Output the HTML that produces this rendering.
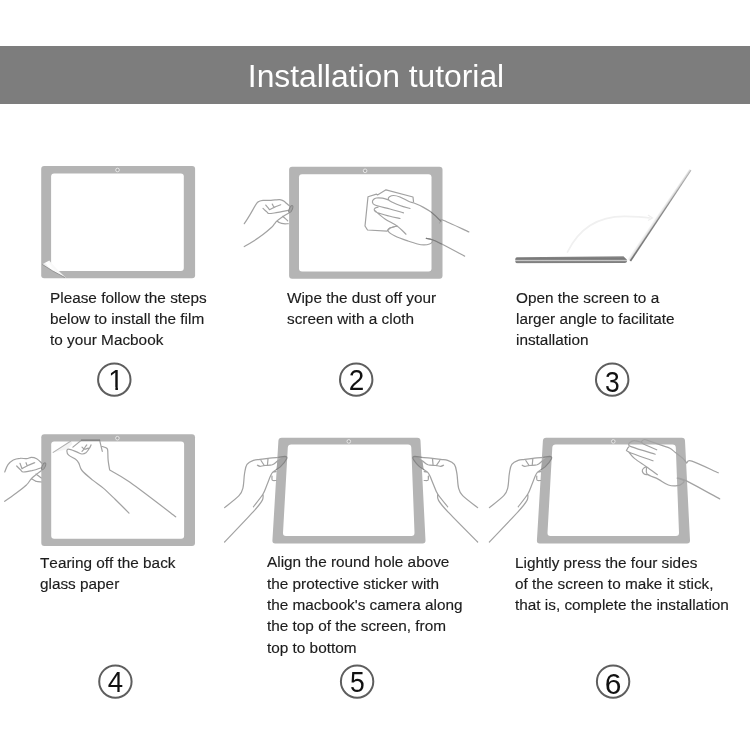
<!DOCTYPE html>
<html><head><meta charset="utf-8"><title>Installation tutorial</title>
<style>
html,body{margin:0;padding:0;background:#fff;}
body{width:750px;height:750px;position:relative;overflow:hidden;font-family:"Liberation Sans",Arial,sans-serif;color:#1a1a1a;}
.banner{position:absolute;left:0;top:46px;width:750px;height:57.5px;background:#7d7d7d;}
.title{position:absolute;left:0.5px;top:48.3px;width:750px;height:57px;line-height:57px;text-align:center;color:#fff;font-size:31.8px;white-space:nowrap;will-change:transform;}
.t{position:absolute;font-size:15.33px;line-height:20px;height:20px;white-space:nowrap;color:#1c1c1c;will-change:transform;-webkit-text-stroke:0.15px #1c1c1c;font-kerning:none;}
svg{position:absolute;left:0;top:0;will-change:transform;}
</style></head><body>
<div class="banner"></div>
<div class="title"><span id="ttl">Installation tutorial</span></div>
<svg width="750" height="750" viewBox="0 0 750 750">
<rect x="41.2" y="166.0" width="153.9" height="112.3" rx="3" fill="#b4b4b4"/><rect x="51.1" y="173.4" width="132.7" height="97.6" rx="3" fill="#fff"/><circle cx="117.5" cy="170.0" r="1.8" fill="#a8a8a8" stroke="#ececec" stroke-width="0.9"/>
<defs><linearGradient id="gp" gradientUnits="userSpaceOnUse" x1="46" y1="268" x2="54" y2="262"><stop offset="0" stop-color="#e2e2e2"/><stop offset="0.35" stop-color="#fff"/><stop offset="1" stop-color="#f2f2f2"/></linearGradient></defs>
<path d="M42.2 264.2 L49.3 260.6 Q55.5 268.5 66.2 277.9 Q52 271 42.2 264.2Z" fill="url(#gp)"/>
<path d="M42.2 264.4 Q52 271 65 277.6" fill="none" stroke="#8e8e8e" stroke-width="0.9"/>
<rect x="289.1" y="166.7" width="153.4" height="112.1" rx="3" fill="#b4b4b4"/><rect x="299.0" y="174.3" width="132.5" height="97.3" rx="3" fill="#fff"/><circle cx="365.1" cy="170.8" r="1.8" fill="#a8a8a8" stroke="#ececec" stroke-width="0.9"/>
<path d="M244.3 223.7C245.3 222.3 247.9 218.2 249.9 214.9C252.0 211.5 254.9 205.9 256.5 203.7C258.0 201.4 258.2 201.9 259.3 201.3C260.4 200.8 261.3 200.6 263.0 200.4C264.7 200.2 267.5 200.5 269.5 200.4C271.6 200.3 273.4 200.0 275.1 199.9C276.8 199.8 278.4 199.6 279.8 199.7C281.2 199.9 282.4 200.3 283.5 200.9C284.6 201.4 285.3 202.3 286.3 203.2C287.3 204.1 289.1 205.5 289.6 206.0M289.6 210.2C288.3 210.4 284.2 211.1 281.7 211.6C279.1 212.1 276.4 212.7 274.2 213.0C272.0 213.3 269.8 213.6 268.6 213.5C267.4 213.3 267.8 212.6 267.2 212.1C266.6 211.5 265.6 210.8 264.9 210.2C264.2 209.6 263.3 208.6 263.0 208.3M265.8 205.1C266.1 205.5 267.0 206.6 267.7 207.4C268.3 208.2 269.2 209.3 269.5 209.7M272.3 204.1C272.5 204.4 273.0 205.5 273.3 206.0C273.6 206.5 274.0 207.2 274.2 207.4M269.5 209.7C270.3 209.3 272.9 208.0 274.2 207.4C275.5 206.8 276.4 206.4 277.5 206.0C278.6 205.6 280.2 205.0 280.7 204.8M289.1 213.0C288.0 213.6 284.6 215.4 282.6 216.7C280.6 218.1 278.4 219.7 277.0 220.9C275.6 222.2 275.1 223.1 274.2 224.2C273.3 225.3 273.3 225.8 271.4 227.5C269.5 229.2 266.0 232.2 263.0 234.5C260.0 236.7 256.8 239.0 253.7 241.0C250.6 243.0 245.9 245.7 244.3 246.6M277.0 220.9C277.5 221.2 278.7 222.3 279.8 222.8C280.9 223.3 282.1 223.6 283.5 223.7C284.9 223.9 287.4 223.7 288.2 223.7M282.6 216.3C283.1 216.7 284.5 217.8 285.4 218.6C286.3 219.4 287.3 220.5 287.7 220.9" fill="none" stroke="#a2a2a2" stroke-width="1.2" stroke-linecap="round" stroke-linejoin="round" />
<ellipse cx="290.8" cy="209.1" rx="1.5" ry="3.8" transform="rotate(24 290.8 209.1)" fill="#a4a4a4" stroke="#858585" stroke-width="0.9"/>
<path d="M413.5 201.5L413.0 197.0L386.0 189.8L377.5 195.0L376.5 194.1L368.0 196.8L365.0 226.0L367.5 230.0L387.0 231.2L390.0 228.0L397.0 226.0" fill="none" stroke="#a2a2a2" stroke-width="1.2" stroke-linecap="round" stroke-linejoin="round" />
<path d="M410.0 208.5C408.3 208.0 403.3 206.8 400.0 205.5C396.7 204.2 391.9 202.1 390.0 201.0C388.1 199.9 388.4 199.5 388.3 198.8C388.2 198.1 388.6 197.4 389.5 196.8C390.4 196.2 391.8 195.5 393.5 195.5C395.2 195.5 397.4 196.0 400.0 197.0C402.6 198.0 406.7 200.5 409.0 201.5C411.3 202.5 411.7 202.1 414.0 203.0C416.3 203.9 420.1 205.5 423.0 207.1C425.9 208.7 429.2 210.6 431.5 212.3C433.8 214.0 435.4 215.9 437.0 217.4C438.6 218.9 440.2 220.5 440.8 221.1M403.5 212.8C401.2 212.2 394.8 210.3 390.0 209.0C385.2 207.7 377.9 206.1 375.0 205.0C372.1 203.9 372.8 203.1 372.5 202.2C372.2 201.3 372.8 200.2 373.5 199.5C374.2 198.8 375.0 198.2 376.5 198.0C378.0 197.8 380.4 197.9 382.5 198.2C384.6 198.5 387.9 199.7 389.0 200.0M400.0 218.5C398.2 218.1 392.8 217.0 389.0 216.0C385.2 215.0 379.4 213.5 377.0 212.5C374.6 211.5 374.6 210.7 374.3 210.0C374.0 209.3 374.4 208.7 375.0 208.2C375.6 207.7 377.5 207.4 378.0 207.2M375.0 210.8C376.7 212.2 381.3 216.5 385.0 219.0C388.7 221.5 393.5 223.5 397.0 226.0C400.5 228.5 404.5 232.8 406.0 234.2M397.0 226.0C395.8 226.3 391.5 227.2 390.0 228.0C388.5 228.8 387.2 229.7 388.0 231.0C388.8 232.3 391.7 234.3 395.0 236.0C398.3 237.7 404.2 239.7 408.0 241.0C411.8 242.3 414.8 243.3 417.5 244.0C420.2 244.7 422.0 244.9 424.0 244.9C426.0 244.9 428.2 244.5 429.6 244.0C431.0 243.5 432.0 242.4 432.4 241.7C432.8 241.0 433.0 240.4 432.0 239.8C431.0 239.2 427.2 238.6 426.3 238.4M426.3 238.4C427.3 238.6 429.8 238.9 432.4 239.8C435.0 240.7 436.3 241.3 441.7 244.0C447.1 246.7 460.8 254.1 464.6 256.1M439.4 223.0C439.6 222.7 440.2 221.6 440.8 221.1C441.4 220.6 438.0 218.2 442.7 220.0C447.4 221.8 464.4 229.9 468.8 231.9" fill="none" stroke="#a2a2a2" stroke-width="1.2" stroke-linecap="round" stroke-linejoin="round" />
<path d="M431.5 212.3C432.4 213.2 435.4 215.9 437.0 217.4C438.6 218.9 440.2 220.5 440.8 221.1M426.3 238.4C427.3 238.6 429.8 238.9 432.4 239.8C435.0 240.7 440.1 243.3 441.7 244.0" fill="none" stroke="#7c7c7c" stroke-width="1.1" stroke-linecap="round" stroke-linejoin="round" />
<defs>
<linearGradient id="gb" x1="0" y1="0" x2="0" y2="1"><stop offset="0" stop-color="#909090"/><stop offset="0.3" stop-color="#787878"/><stop offset="0.52" stop-color="#8a8a8a"/><stop offset="0.62" stop-color="#d0d0d0"/><stop offset="0.72" stop-color="#8a8a8a"/><stop offset="0.9" stop-color="#808080"/><stop offset="1" stop-color="#b0b0b0"/></linearGradient>
<linearGradient id="gl" gradientUnits="userSpaceOnUse" x1="656" y1="213" x2="661.5" y2="216.6"><stop offset="0" stop-color="#fff"/><stop offset="0.35" stop-color="#e4e4e4"/><stop offset="0.7" stop-color="#b0b0b0"/><stop offset="1" stop-color="#777"/></linearGradient>
</defs>
<path d="M517 257.3 L623.5 256.2 L627.2 260 L627 261.5 Q626.6 262.9 625 262.9 L517 263.3 Q515.2 263.3 515.2 260.3 Q515.2 257.3 517 257.3Z" fill="url(#gb)"/>
<defs><linearGradient id="gl2" gradientUnits="userSpaceOnUse" x1="660.28" y1="215.37" x2="657.71" y2="213.65"><stop offset="0" stop-color="#cfcfcf"/><stop offset="0.5" stop-color="#ececec"/><stop offset="1" stop-color="#fff"/></linearGradient>
<linearGradient id="gl3" gradientUnits="userSpaceOnUse" x1="630.40" y1="261.00" x2="691.00" y2="170.30"><stop offset="0" stop-color="#757575"/><stop offset="0.6" stop-color="#8a8a8a"/><stop offset="1" stop-color="#b0b0b0"/></linearGradient></defs>
<path d="M630.1 260.8 L627.2 258.8 L689.3 169.2 L690.8 170.1Z" fill="url(#gl2)"/>
<path d="M629.7 260.5 L690.6 170.0 L691.4 170.6 L631.1 261.5Z" fill="url(#gl3)"/>
<path d="M567.5 252 Q585 216 625 216.3 Q640 216.3 650 218" fill="none" stroke="#f0f0f0" stroke-width="1.7" stroke-linecap="round" stroke-linejoin="round" />
<path d="M648 215 L652.5 218 L648 220.5" fill="none" stroke="#efefef" stroke-width="1.2"/>
<rect x="41.3" y="434.3" width="153.7" height="111.6" rx="3" fill="#b4b4b4"/><rect x="51.2" y="441.5" width="132.9" height="97.3" rx="3" fill="#fff"/><circle cx="117.4" cy="438.2" r="1.8" fill="#a8a8a8" stroke="#ececec" stroke-width="0.9"/>
<path d="M4.7 472.0C5.2 470.8 6.6 466.7 8.0 464.7C9.4 462.7 11.3 461.1 13.3 460.0C15.3 458.9 17.8 458.5 20.0 458.3C22.2 458.0 24.8 458.8 26.7 458.7C28.6 458.5 29.7 457.3 31.3 457.3C33.0 457.3 34.9 457.7 36.7 458.7C38.4 459.7 41.1 462.6 42.0 463.3M42.7 467.3C40.9 467.9 35.2 469.9 32.0 470.7C28.8 471.4 25.2 472.1 23.3 472.0C21.4 471.9 21.8 471.0 20.7 470.0C19.6 469.0 17.3 466.7 16.7 466.0M20.0 463.3L22.0 468.7M26.0 462.7L27.3 466.0M22.0 468.7C22.9 468.2 25.2 466.7 27.3 465.7C29.4 464.7 33.4 463.2 34.7 462.7M41.3 470.7C39.8 471.9 34.4 475.7 32.0 478.0C29.6 480.3 29.3 482.1 26.7 484.7C24.0 487.2 19.7 490.6 16.0 493.3C12.3 496.1 6.6 500.0 4.7 501.3M31.3 478.7C32.1 479.1 34.3 480.8 36.0 481.3C37.7 481.9 40.4 481.9 41.3 482.0M36.0 474.0L41.3 478.0" fill="none" stroke="#a2a2a2" stroke-width="1.2" stroke-linecap="round" stroke-linejoin="round" />
<ellipse cx="43.7" cy="466.3" rx="1.5" ry="3.8" transform="rotate(24 43.7 466.3)" fill="#a4a4a4" stroke="#858585" stroke-width="0.9"/>
<path d="M53.2 452.4 L71.3 440.7 L72.4 443.9 L67.1 449.2Z" fill="#f3f3f3"/>
<path d="M53.2 452.4 L71.3 440.7" fill="none" stroke="#b0b0b0" stroke-width="1.1" stroke-linecap="round" stroke-linejoin="round" />
<path d="M129.0 513.1C126.7 510.8 119.4 503.5 115.1 499.3C110.8 495.1 107.0 491.3 103.3 488.1C99.6 484.9 96.2 483.0 92.7 480.1C89.2 477.2 84.3 473.3 82.0 470.5C79.7 467.7 79.9 465.0 78.8 463.1C77.7 461.2 77.3 460.6 75.6 459.3C73.9 458.0 70.2 456.5 68.7 455.1C67.2 453.8 66.9 452.2 66.9 451.2C66.9 450.2 67.1 449.1 68.7 449.2C70.3 449.3 74.5 451.1 76.7 451.9C78.9 452.7 80.4 453.9 82.0 454.0C83.6 454.1 85.0 453.4 86.3 452.4C87.5 451.4 88.7 449.4 89.5 448.1C90.3 446.9 90.8 445.4 91.1 444.9M72.9 447.1L81.5 440.1M99.6 440.1L102.3 451.3M102.3 446.5C102.8 446.7 104.6 447.1 105.5 447.6C106.4 448.1 107.2 447.6 107.6 449.7C108.0 451.8 107.8 456.5 108.1 459.9C108.4 463.3 109.4 468.3 109.7 470.0M109.7 470.0C113.1 472.1 119.0 474.5 130.0 482.3C141.0 490.1 168.1 511.0 175.7 516.8M82.0 447.1L84.1 449.2M86.8 444.9C86.3 445.6 83.8 448.7 84.1 449.2C84.4 449.7 87.7 448.3 88.4 448.1M84.1 449.2L82.0 451.3" fill="none" stroke="#a2a2a2" stroke-width="1.2" stroke-linecap="round" stroke-linejoin="round" />
<path d="M81.5 440.1 L99.6 440.1" fill="none" stroke="#777" stroke-width="1.2" stroke-linecap="round" stroke-linejoin="round" />
<path d="M278.4 440.8Q278.6 437.8 281.6 437.8L417.4 437.8Q420.4 437.8 420.5 440.8L425.5 540.5Q425.6 543.5 422.6 543.5L275.2 543.5Q272.2 543.5 272.4 540.5Z" fill="#b4b4b4"/><path d="M287.8 447.6Q288.0 444.4 291.2 444.4L408.0 444.4Q411.2 444.4 411.3 447.6L414.5 532.8Q414.6 536.0 411.4 536.0L286.0 536.0Q282.8 536.0 283.0 532.8Z" fill="#fff"/><circle cx="348.8" cy="441.4" r="1.8" fill="#a8a8a8" stroke="#ececec" stroke-width="0.9"/>
<path d="M277.6 461 L283.5 457 L284.8 456.5 Q287.2 457 286.8 458.4 Q285.1 462.1 280.3 466.9 L276.5 469.5 Z" fill="#a4a4a4"/><path d="M224.6 507.6C227.0 505.6 235.9 498.9 239.0 495.6C242.1 492.3 242.1 491.3 243.0 487.6C243.9 483.9 243.9 477.1 244.6 473.2C245.3 469.3 245.5 466.5 247.0 464.4C248.5 462.3 251.2 461.2 253.4 460.4C255.6 459.6 257.6 459.8 260.0 459.4C262.4 459.0 264.9 458.6 268.0 458.3C271.1 458.0 275.9 457.6 278.7 457.3C281.4 457.0 283.5 456.6 284.5 456.5M257.4 465.2C257.8 465.4 258.9 466.2 260.0 466.3C261.1 466.4 262.2 465.8 264.3 465.5C266.4 465.2 270.1 465.4 272.3 464.7C274.5 463.9 275.7 462.3 277.6 461.0C279.5 459.7 282.5 457.7 283.5 457.0M261.0 460.5L264.3 465.5M268.0 459.1L267.5 464.2M276.5 469.5C275.9 469.9 273.8 471.2 272.8 472.2C271.8 473.2 271.7 473.3 270.7 475.4C269.7 477.5 268.2 481.9 266.9 485.0C265.6 488.1 265.2 490.4 263.0 494.0C260.8 497.6 255.0 504.7 253.4 506.8M263.0 494.0C262.9 495.1 263.8 497.5 262.2 500.4C260.6 503.3 259.7 504.7 253.4 511.6C247.1 518.5 229.4 536.9 224.6 542.0M272.8 472.2L276.0 471.7M272.0 476.0C272.1 476.7 271.6 479.4 272.3 480.2C273.0 480.9 275.4 480.4 276.0 480.5" fill="none" stroke="#a2a2a2" stroke-width="1.2" stroke-linecap="round" stroke-linejoin="round" /><path d="M278.7 457.2 L284.8 456.4 Q287.4 456.6 286.8 458.4 Q285.1 462.1 280.3 466.9 L276.5 469.5" fill="none" stroke="#868686" stroke-width="1.1" stroke-linecap="round" stroke-linejoin="round" />
<g transform="translate(711.22 0) scale(-1.04 1)"><path d="M277.6 461 L283.5 457 L284.8 456.5 Q287.2 457 286.8 458.4 Q285.1 462.1 280.3 466.9 L276.5 469.5 Z" fill="#a4a4a4"/><path d="M224.6 507.6C227.0 505.6 235.9 498.9 239.0 495.6C242.1 492.3 242.1 491.3 243.0 487.6C243.9 483.9 243.9 477.1 244.6 473.2C245.3 469.3 245.5 466.5 247.0 464.4C248.5 462.3 251.2 461.2 253.4 460.4C255.6 459.6 257.6 459.8 260.0 459.4C262.4 459.0 264.9 458.6 268.0 458.3C271.1 458.0 275.9 457.6 278.7 457.3C281.4 457.0 283.5 456.6 284.5 456.5M257.4 465.2C257.8 465.4 258.9 466.2 260.0 466.3C261.1 466.4 262.2 465.8 264.3 465.5C266.4 465.2 270.1 465.4 272.3 464.7C274.5 463.9 275.7 462.3 277.6 461.0C279.5 459.7 282.5 457.7 283.5 457.0M261.0 460.5L264.3 465.5M268.0 459.1L267.5 464.2M276.5 469.5C275.9 469.9 273.8 471.2 272.8 472.2C271.8 473.2 271.7 473.3 270.7 475.4C269.7 477.5 268.2 481.9 266.9 485.0C265.6 488.1 265.2 490.4 263.0 494.0C260.8 497.6 255.0 504.7 253.4 506.8M263.0 494.0C262.9 495.1 263.8 497.5 262.2 500.4C260.6 503.3 259.7 504.7 253.4 511.6C247.1 518.5 229.4 536.9 224.6 542.0M272.8 472.2L276.0 471.7M272.0 476.0C272.1 476.7 271.6 479.4 272.3 480.2C273.0 480.9 275.4 480.4 276.0 480.5" fill="none" stroke="#a2a2a2" stroke-width="1.2" stroke-linecap="round" stroke-linejoin="round" /><path d="M278.7 457.2 L284.8 456.4 Q287.4 456.6 286.8 458.4 Q285.1 462.1 280.3 466.9 L276.5 469.5" fill="none" stroke="#868686" stroke-width="1.1" stroke-linecap="round" stroke-linejoin="round" /></g>
<path d="M542.9 440.8Q543.1 437.8 546.1 437.8L681.9 437.8Q684.9 437.8 685.0 440.8L690.0 540.5Q690.1 543.5 687.1 543.5L539.7 543.5Q536.7 543.5 536.9 540.5Z" fill="#b4b4b4"/><path d="M552.3 447.6Q552.5 444.4 555.7 444.4L672.5 444.4Q675.7 444.4 675.8 447.6L679.0 532.8Q679.1 536.0 675.9 536.0L550.5 536.0Q547.3 536.0 547.5 532.8Z" fill="#fff"/><circle cx="613.3" cy="441.4" r="1.8" fill="#a8a8a8" stroke="#ececec" stroke-width="0.9"/>
<path d="M542.4 461 L548.3 457 L549.6 456.5 Q552.0 457 551.6 458.4 Q549.9 462.1 545.1 466.9 L541.3 469.5 Z" fill="#a4a4a4"/><path d="M489.4 507.6C491.8 505.6 500.7 498.9 503.8 495.6C506.9 492.3 506.9 491.3 507.8 487.6C508.7 483.9 508.7 477.1 509.4 473.2C510.1 469.3 510.3 466.5 511.8 464.4C513.3 462.3 516.0 461.2 518.2 460.4C520.4 459.6 522.4 459.8 524.8 459.4C527.2 459.0 529.7 458.6 532.8 458.3C535.9 458.0 540.8 457.6 543.5 457.3C546.2 457.0 548.3 456.6 549.3 456.5M522.2 465.2C522.6 465.4 523.6 466.2 524.8 466.3C525.9 466.4 527.0 465.8 529.1 465.5C531.2 465.2 534.9 465.4 537.1 464.7C539.3 463.9 540.5 462.3 542.4 461.0C544.3 459.7 547.3 457.7 548.3 457.0M525.8 460.5L529.1 465.5M532.8 459.1L532.3 464.2M541.3 469.5C540.7 469.9 538.6 471.2 537.6 472.2C536.6 473.2 536.5 473.3 535.5 475.4C534.5 477.5 533.0 481.9 531.7 485.0C530.4 488.1 530.0 490.4 527.8 494.0C525.5 497.6 519.8 504.7 518.2 506.8M527.8 494.0C527.7 495.1 528.6 497.5 527.0 500.4C525.4 503.3 524.5 504.7 518.2 511.6C511.9 518.5 494.2 536.9 489.4 542.0M537.6 472.2L540.8 471.7M536.8 476.0C536.8 476.7 536.4 479.4 537.1 480.2C537.8 480.9 540.2 480.4 540.8 480.5" fill="none" stroke="#a2a2a2" stroke-width="1.2" stroke-linecap="round" stroke-linejoin="round" /><path d="M543.5 457.2 L549.6 456.4 Q552.2 456.6 551.6 458.4 Q549.9 462.1 545.1 466.9 L541.3 469.5" fill="none" stroke="#868686" stroke-width="1.1" stroke-linecap="round" stroke-linejoin="round" />
<path d="M656.7 449.8C654.3 448.7 645.2 445.0 642.7 443.5C640.3 442.0 641.6 441.7 642.0 441.0C642.4 440.3 643.7 439.5 644.9 439.5C646.2 439.5 646.2 439.9 649.3 441.0C652.5 442.1 660.6 444.9 664.0 446.1C667.4 447.4 667.9 447.2 669.9 448.3C671.8 449.4 673.5 451.0 675.7 452.7C677.9 454.4 681.2 456.9 683.1 458.6C684.9 460.3 686.1 462.3 686.7 463.0M655.2 454.2C651.3 453.0 636.1 448.6 631.7 446.9C627.3 445.2 628.9 444.8 628.8 443.9C628.7 443.1 630.0 442.3 631.0 441.7C632.0 441.2 632.8 440.4 634.7 440.6C636.5 440.7 640.8 442.1 642.0 442.5M653.0 460.8C649.0 459.3 633.1 454.0 628.8 452.0C624.5 450.0 627.3 449.9 627.3 449.1C627.3 448.2 628.6 447.2 628.8 446.9M628.8 452.0C629.8 453.1 631.7 456.2 634.7 458.6C637.6 461.0 642.6 464.0 646.4 466.7C650.2 469.4 655.6 473.4 657.4 474.7M647.1 474.7C646.6 474.6 645.0 474.6 644.2 474.0C643.4 473.4 642.4 472.0 642.3 471.1C642.2 470.1 642.8 469.0 643.5 468.4C644.2 467.8 645.8 466.5 646.4 467.4C647.0 468.3 645.2 472.0 647.1 474.0C649.1 476.0 654.6 477.3 658.1 479.1C661.7 481.0 665.2 483.9 668.4 485.0C671.6 486.1 674.9 486.0 677.2 485.7C679.5 485.5 681.2 484.4 682.3 483.5C683.4 482.7 684.7 481.5 683.8 480.6C682.9 479.7 676.8 478.1 677.2 478.1C677.6 478.1 678.9 477.1 686.0 480.6C693.1 484.1 714.1 495.9 719.7 498.9M686.7 463.0C687.6 462.7 686.6 459.5 691.9 461.1C697.1 462.7 713.9 470.9 718.3 472.8" fill="none" stroke="#a2a2a2" stroke-width="1.2" stroke-linecap="round" stroke-linejoin="round" />
<circle cx="114.3" cy="379.6" r="16.2" fill="none" stroke="#5e5e5e" stroke-width="2"/>
<clipPath id="c1"><path d="M100 360H130V386.9H117.95V392H115.35V386.9H100Z"/></clipPath>
<g clip-path="url(#c1)"><text class="dg" x="0" y="0" font-size="29.4" text-anchor="middle" fill="#111" font-family="'Liberation Sans', Arial, sans-serif" transform="translate(116.05 390.00) scale(0.950 1.000)">1</text></g>
<circle cx="356.2" cy="379.6" r="16.2" fill="none" stroke="#5e5e5e" stroke-width="2"/>
<text class="dg" x="0" y="0" font-size="29.4" text-anchor="middle" fill="#111" font-family="'Liberation Sans', Arial, sans-serif" transform="translate(356.40 390.00) scale(0.950 1.000)">2</text>
<circle cx="612.2" cy="379.6" r="16.2" fill="none" stroke="#5e5e5e" stroke-width="2"/>
<text class="dg" x="0" y="0" font-size="29.4" text-anchor="middle" fill="#111" font-family="'Liberation Sans', Arial, sans-serif" transform="translate(612.30 392.00) scale(0.900 1.000)">3</text>
<circle cx="115.4" cy="681.6" r="16.2" fill="none" stroke="#5e5e5e" stroke-width="2"/>
<text class="dg" x="0" y="0" font-size="29.4" text-anchor="middle" fill="#111" font-family="'Liberation Sans', Arial, sans-serif" transform="translate(115.30 692.00) scale(0.940 1.000)">4</text>
<circle cx="357.1" cy="681.6" r="16.2" fill="none" stroke="#5e5e5e" stroke-width="2"/>
<text class="dg" x="0" y="0" font-size="29.4" text-anchor="middle" fill="#111" font-family="'Liberation Sans', Arial, sans-serif" transform="translate(357.30 692.00) scale(0.900 1.000)">5</text>
<circle cx="613.1" cy="681.6" r="16.2" fill="none" stroke="#5e5e5e" stroke-width="2"/>
<text class="dg" x="0" y="0" font-size="29.4" text-anchor="middle" fill="#111" font-family="'Liberation Sans', Arial, sans-serif" transform="translate(613.20 694.00) scale(1.020 1.000)">6</text>
</svg>
<div class="b"><div class="t" style="left:49.6px;top:288px"><span>Please follow the steps</span></div><div class="t" style="left:49.6px;top:309px"><span>below to install the film</span></div><div class="t" style="left:49.6px;top:330px"><span>to your Macbook</span></div></div>
<div class="b"><div class="t" style="left:287.4px;top:288px"><span>Wipe the dust off your</span></div><div class="t" style="left:287.4px;top:309px"><span>screen with a cloth</span></div></div>
<div class="b"><div class="t" style="left:515.7px;top:288px"><span>Open the screen to a</span></div><div class="t" style="left:515.7px;top:309px"><span>larger angle to facilitate</span></div><div class="t" style="left:515.7px;top:330px"><span>installation</span></div></div>
<div class="b"><div class="t" style="left:39.8px;top:553px"><span>Tearing off the back</span></div><div class="t" style="left:39.8px;top:574px"><span>glass paper</span></div></div>
<div class="b"><div class="t" style="left:267px;top:552px"><span>Align the round hole above</span></div><div class="t" style="left:267px;top:574px"><span>the protective sticker with</span></div><div class="t" style="left:267px;top:595px"><span>the macbook's camera along</span></div><div class="t" style="left:267px;top:616px"><span>the top of the screen, from</span></div><div class="t" style="left:267px;top:638px"><span>top to bottom</span></div></div>
<div class="b"><div class="t" style="left:515px;top:553px"><span>Lightly press the four sides</span></div><div class="t" style="left:515px;top:574px"><span>of the screen to make it stick,</span></div><div class="t" style="left:515px;top:595px"><span>that is, complete the installation</span></div></div>
</body></html>
